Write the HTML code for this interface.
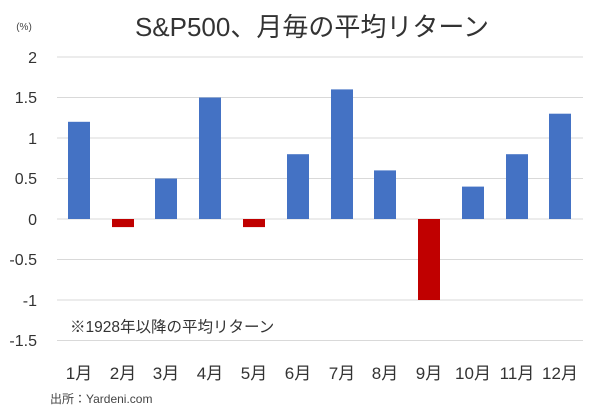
<!DOCTYPE html>
<html><head><meta charset="utf-8"><style>
body{margin:0;background:#fff;}
svg text{font-family:"Liberation Sans","Noto Sans CJK JP",sans-serif;}
</style></head><body>
<svg width="600" height="408" viewBox="0 0 600 408" xmlns="http://www.w3.org/2000/svg">
<rect width="600" height="408" fill="#fff"/>
<text x="312" y="36" font-size="26" text-anchor="middle" fill="#333">S&amp;P500、月毎の平均リターン</text>
<text x="24" y="30" font-size="10" text-anchor="middle" fill="#444">(%)</text>
<g stroke="#d9d9d9" stroke-width="1">
<line x1="57" x2="583" y1="57" y2="57"/>
<line x1="57" x2="583" y1="97.5" y2="97.5"/>
<line x1="57" x2="583" y1="138" y2="138"/>
<line x1="57" x2="583" y1="178.5" y2="178.5"/>
<line x1="57" x2="583" y1="219" y2="219"/>
<line x1="57" x2="583" y1="259.5" y2="259.5"/>
<line x1="57" x2="583" y1="300" y2="300"/>
<line x1="57" x2="583" y1="340.5" y2="340.5"/>
</g>
<g font-size="16" fill="#333" text-anchor="end">
<text x="37" y="63">2</text>
<text x="37" y="103">1.5</text>
<text x="37" y="144">1</text>
<text x="37" y="184">0.5</text>
<text x="37" y="225">0</text>
<text x="37" y="265">-0.5</text>
<text x="37" y="306">-1</text>
<text x="37" y="346">-1.5</text>
</g>
<g>
<rect x="68" y="121.8" width="22" height="97.2" fill="#4472c4"/>
<rect x="112" y="219" width="22" height="8.1" fill="#c00000"/>
<rect x="155" y="178.5" width="22" height="40.5" fill="#4472c4"/>
<rect x="199" y="97.5" width="22" height="121.5" fill="#4472c4"/>
<rect x="243" y="219" width="22" height="8.1" fill="#c00000"/>
<rect x="287" y="154.2" width="22" height="64.8" fill="#4472c4"/>
<rect x="331" y="89.4" width="22" height="129.6" fill="#4472c4"/>
<rect x="374" y="170.4" width="22" height="48.6" fill="#4472c4"/>
<rect x="418" y="219" width="22" height="81" fill="#c00000"/>
<rect x="462" y="186.6" width="22" height="32.4" fill="#4472c4"/>
<rect x="506" y="154.2" width="22" height="64.8" fill="#4472c4"/>
<rect x="549" y="113.7" width="22" height="105.3" fill="#4472c4"/>
</g>
<text x="70" y="332" font-size="15.5" fill="#333">※1928年以降の平均リターン</text>
<g font-size="17" fill="#333" text-anchor="middle">
<text x="79" y="379">1月</text>
<text x="123" y="379">2月</text>
<text x="166" y="379">3月</text>
<text x="210" y="379">4月</text>
<text x="254" y="379">5月</text>
<text x="298" y="379">6月</text>
<text x="342" y="379">7月</text>
<text x="385" y="379">8月</text>
<text x="429" y="379">9月</text>
<text x="473" y="379">10月</text>
<text x="517" y="379">11月</text>
<text x="560" y="379">12月</text>
</g>
<text x="50" y="403" font-size="12" fill="#444">出所：Yardeni.com</text>
</svg>
</body></html>
